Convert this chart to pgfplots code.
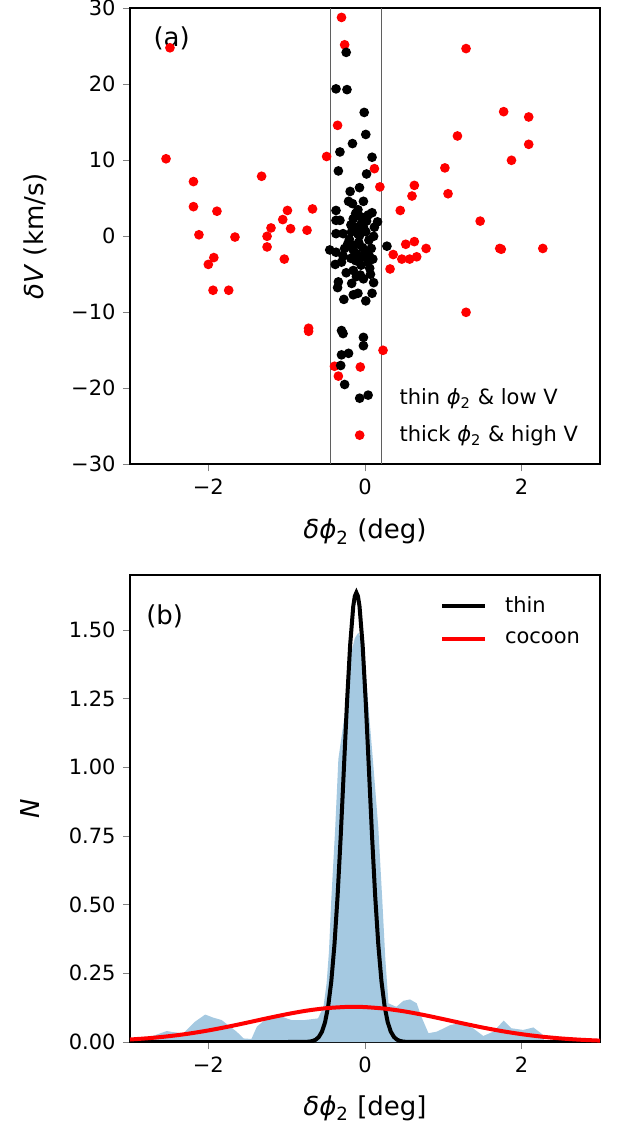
\documentclass[border=0pt]{standalone}
\usepackage{fontspec}
\setmainfont{DejaVu Sans}
\usepackage{pgfplots}
\pgfplotsset{compat=1.18}
\definecolor{kdeblue}{RGB}{165,201,225}
\definecolor{vgray}{RGB}{95,95,95}
\pgfplotsset{markleg/.style={legend image code/.code={\draw[##1] plot coordinates {(0.2cm,0cm)}; \path[draw=none,fill=none] (0cm,0cm) -- (0.83cm,0cm);}}}
\begin{document}
\begin{tikzpicture}
\path[use as bounding box] (0,0) rectangle (310.5pt,-564.5pt);
\pgfplotsset{
  every axis/.append style={scale only axis, line width=0.8pt, tick align=outside,
    major tick length=3.5pt, tick pos=left, xmin=-3, xmax=3, xtick={-2,0,2},
    xticklabels={−2,0,2},
    tick label style={font=\fontsize{10.5}{12}\selectfont},
    label style={font=\fontsize{13}{15}\selectfont},
    legend style={font=\fontsize{10.5}{12}\selectfont, draw=none, fill=none},
    legend cell align=left},
}
% ---------------- panel (a)
\begin{axis}[at={(65pt,-4.15pt)}, anchor=north west, width=235pt, height=228pt,
  ymin=-30, ymax=30, ytick={-30,-20,...,30}, yticklabels={−30,−20,−10,0,10,20,30},
  xlabel={\textit{δϕ}\textsubscript{2} (deg)}, ylabel={\textit{δV} (km/s)},
  xlabel style={at={(rel axis cs:0.5,-0.148)}, anchor=center},
  ylabel style={at={(rel axis cs:-0.202,0.5)}, anchor=center},
  reverse legend,
  legend style={at={(0.450,0.185)}, anchor=north west, row sep=5pt},
]
\addplot[vgray, line width=0.6pt, forget plot] coordinates {(-0.44,-30) (-0.44,30)};
\addplot[vgray, line width=0.6pt, forget plot] coordinates {(0.215,-30) (0.215,30)};
\addplot[only marks, mark=*, mark size=2pt, color=red, fill=red, markleg] coordinates {
(-2.49,24.8) (-0.30,28.8) (-0.26,25.2) (-0.35,14.6) (-0.49,10.5) (-2.54,10.2)
(-2.19,7.2) (-1.32,7.9) (-2.19,3.9) (-1.89,3.3) (-0.99,3.4) (-0.67,3.6)
(-1.05,2.2) (-1.20,1.1) (-0.95,1.0) (-0.74,0.8) (-2.12,0.2) (-1.66,-0.1)
(-1.25,0.0) (-1.25,-1.4) (-1.03,-3.0) (-1.93,-2.8) (-2.00,-3.7) (-1.94,-7.1)
(-1.74,-7.1) (-0.72,-12.1) (-0.72,-12.5) (-0.39,-17.1) (-0.34,-18.4) (-0.06,-17.2)
(1.29,24.7) (1.77,16.4) (2.09,15.7) (1.18,13.2) (2.09,12.1) (1.87,10.0)
(1.02,9.0) (0.12,8.9) (0.19,6.5) (0.63,6.7) (0.60,5.3) (1.06,5.6)
(0.45,3.4) (1.47,2.0) (0.63,-0.7) (0.52,-1.05) (0.78,-1.6) (0.36,-2.4)
(0.47,-3.0) (0.57,-3.0) (0.66,-2.7) (0.32,-4.3) (1.72,-1.6) (1.74,-1.7)
(2.27,-1.6) (1.29,-10.0) (0.23,-15.0)
};
\addlegendentry{thick \textit{ϕ}\textsubscript{2} \& high V}
\addplot[only marks, mark=*, mark size=2pt, color=black, fill=black, markleg] coordinates {
(-0.24,24.2) (-0.37,19.4) (-0.23,19.3) (-0.01,16.3) (0.01,13.4) (-0.16,12.2)
(-0.32,11.1) (0.09,10.4) (-0.34,8.6) (0.02,8.2) (-0.07,6.4) (-0.19,5.9)
(-0.02,4.6) (-0.21,4.6) (-0.16,4.3) (-0.37,3.4) (-0.09,3.5) (0.09,3.1)
(-0.06,2.6) (-0.37,2.1) (-0.32,2.1) (-0.15,2.3) (0.02,2.0) (0.16,1.9)
(-0.13,1.2) (-0.02,1.2) (-0.37,0.35) (-0.28,0.35) (-0.17,0.6) (-0.07,0.1)
(0.11,0.0) (0.01,0.6) (0.28,-1.3) (-0.45,-1.8) (-0.37,-2.1) (-0.28,-2.6)
(-0.15,-1.8) (-0.10,-2.6) (0.0,-2.1) (0.06,-2.7) (-0.04,-2.7) (-0.38,-3.7)
(-0.30,-3.4) (-0.11,-2.3) (0.02,-2.3) (0.04,-3.4) (-0.15,-4.5) (-0.06,-5.1)
(-0.17,-6.2) (-0.34,-6.0) (-0.35,-6.75) (0.11,-6.1) (0.09,-7.5) (-0.15,-7.7)
(-0.09,-7.5) (-0.27,-8.3) (0.01,-8.5) (-0.30,-12.4) (-0.28,-12.8) (-0.02,-13.3)
(-0.02,-14.4) (-0.30,-15.6) (-0.21,-15.4) (-0.31,-17.0) (-0.26,-19.5) (0.04,-20.9)
(-0.12,3.0) (-0.05,1.6) (-0.10,0.9) (-0.20,-0.4) (-0.08,-0.8) (0.05,-0.5)
(-0.14,-1.2) (-0.03,-1.5) (0.08,-1.6) (-0.22,-1.0) (-0.12,-3.2) (-0.05,-3.8)
(0.06,-4.2) (-0.24,-4.8) (-0.09,0.3) (0.04,2.8) (-0.18,1.5) (0.12,1.2)
(-0.26,-1.6) (-0.18,-2.9) (0.10,-3.0) (-0.02,-5.6) (-0.11,-5.3) (0.07,-5.0)
};
\addlegendentry{thin \textit{ϕ}\textsubscript{2} \& low V}
\node[font=\fontsize{13}{15}\selectfont] at (rel axis cs:0.0887,0.935) {(a)};
\end{axis}
% ---------------- panel (b)
\begin{axis}[at={(65pt,-287.5pt)}, anchor=north west, width=235pt, height=233.5pt,
  ymin=0, ymax=1.70, ytick={0,0.25,0.5,0.75,1,1.25,1.5},
  yticklabels={0.00,0.25,0.50,0.75,1.00,1.25,1.50},
  xlabel={\textit{δϕ}\textsubscript{2} [deg]}, ylabel={\textit{N}},
  xlabel style={at={(rel axis cs:0.5,-0.141)}, anchor=center},
  ylabel style={at={(rel axis cs:-0.213,0.5)}, anchor=center},
  legend style={at={(0.646,0.973)}, anchor=north west, row sep=4.3pt},
  legend image code/.code={\draw[#1] (0cm,0cm) -- (0.75cm,0cm); \path[draw=none,fill=none] (0cm,0cm) -- (1.03cm,0cm);},
]
\addplot[draw=none, fill=kdeblue, forget plot] coordinates {
(-3,0) (-2.98,0.0) (-2.8,0.012) (-2.64,0.029) (-2.53,0.040) (-2.45,0.036)
(-2.32,0.032) (-2.17,0.074) (-2.04,0.10) (-1.94,0.089) (-1.83,0.080) (-1.75,0.062)
(-1.64,0.038) (-1.55,0.013) (-1.45,0.011) (-1.38,0.056) (-1.28,0.080) (-1.06,0.092)
(-0.94,0.080) (-0.77,0.080) (-0.60,0.086) (-0.53,0.128) (-0.49,0.214) (-0.46,0.33)
(-0.43,0.52) (-0.38,0.78) (-0.34,1.03) (-0.28,1.15) (-0.23,1.25) (-0.19,1.40)
(-0.13,1.47) (-0.085,1.49) (-0.04,1.46) (0.0,1.38) (0.05,1.20) (0.10,1.03)
(0.17,0.78) (0.22,0.52) (0.26,0.30) (0.30,0.141) (0.40,0.128) (0.49,0.150)
(0.575,0.155) (0.66,0.141) (0.72,0.092) (0.81,0.032) (0.92,0.038) (1.09,0.062)
(1.21,0.068) (1.38,0.050) (1.51,0.022) (1.64,0.038) (1.77,0.078) (1.87,0.050)
(2.02,0.044) (2.15,0.053) (2.26,0.029) (2.30,0.0) (3,0)
} \closedcycle;
\addplot[black, line width=2pt] coordinates {
(-3,0) (-1.5,0) (-1,0) (-0.75,0.0005) (-0.71,0.0014) (-0.67,0.0036) (-0.63,0.0083)
(-0.59,0.0182) (-0.55,0.0373) (-0.51,0.0719) (-0.47,0.1302) (-0.43,0.2214)
(-0.39,0.354) (-0.35,0.531) (-0.31,0.749) (-0.27,0.992) (-0.23,1.235)
(-0.19,1.444) (-0.15,1.586) (-0.13,1.623) (-0.11,1.636) (-0.09,1.623) (-0.07,1.586)
(-0.03,1.444) (0.01,1.235) (0.05,0.992) (0.09,0.749) (0.13,0.531) (0.17,0.354)
(0.21,0.2214) (0.25,0.1302) (0.29,0.0719) (0.33,0.0373) (0.37,0.0182)
(0.41,0.0083) (0.45,0.0036) (0.49,0.0014) (0.53,0.0005) (1,0) (1.5,0) (3,0)
};
\addlegendentry{thin}
\addplot[red, line width=2pt, smooth] coordinates {
(-3,0.0091) (-2.75,0.0142) (-2.5,0.0213) (-2.25,0.0305) (-2,0.0421) (-1.75,0.0557)
(-1.5,0.0708) (-1.25,0.0864) (-1,0.1012) (-0.75,0.1139) (-0.5,0.1230) (-0.25,0.1276)
(-0.15,0.128) (0,0.1271) (0.25,0.1215) (0.5,0.1116) (0.75,0.0984) (1,0.0833)
(1.25,0.0677) (1.5,0.0528) (1.75,0.0396) (2,0.0285) (2.25,0.0197) (2.5,0.0130)
(2.75,0.0083) (3,0.0051)
};
\addlegendentry{cocoon}
\node[font=\fontsize{13}{15}\selectfont] at (rel axis cs:0.0738,0.911) {(b)};
\end{axis}
\end{tikzpicture}
\end{document}
